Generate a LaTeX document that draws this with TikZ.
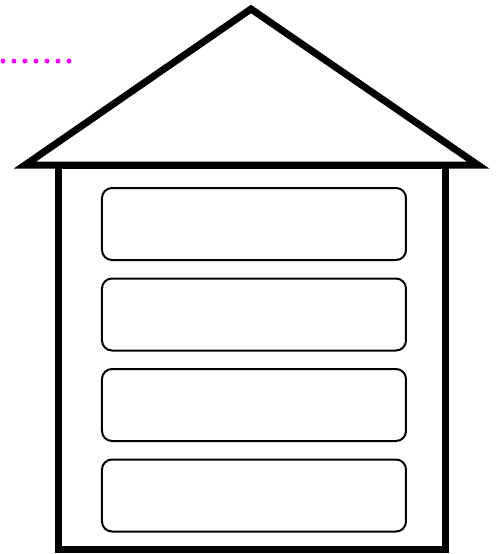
\documentclass[tikz,border=0pt]{standalone}
\usepackage{tikz}
\usetikzlibrary{positioning}
\definecolor{dotmagenta}{RGB}{255,0,255}

\begin{document}
\begin{tikzpicture}[x=0.5pt, y=-0.5pt,
    shelf/.style={draw, line width=1pt, rounded corners=5pt, minimum width=152pt, minimum height=36pt, inner sep=0pt},
    wall/.style={line width=3.5pt, line join=miter},
    node distance=8.25pt]
    \useasboundingbox (0,0) rectangle (501,554);
    % 1. Roof
    \draw[wall] (251,9) -- (25,165) -- (478,165) -- cycle;
    % 2. House body
    \draw[wall] (59,165) rectangle (446,549);
    % 3. Shelves
    \node[shelf] (shelf1) at (254,224) {};
    \foreach \i [count=\j from 2] in {1,2,3} {
        \node[shelf, below=of shelf\i] (shelf\j) {};
    }
    % 4. Dotted mark
    \coordinate (dotA) at (3,61);
    \coordinate (dotB) at (70,61);
    \draw[dotmagenta, line width=2.5pt, line cap=round, dash pattern=on 0pt off 5.5pt] (dotA) -- (dotB);
\end{tikzpicture}
\end{document}
